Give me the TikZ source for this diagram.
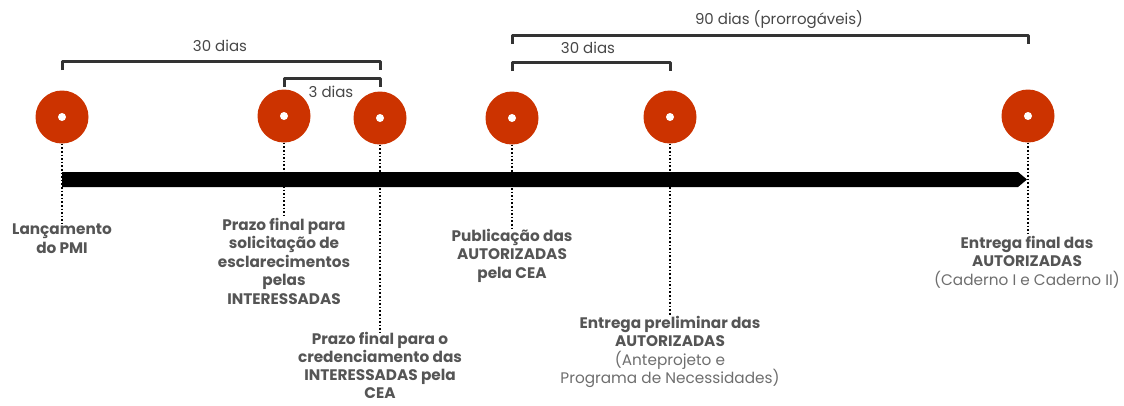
\documentclass[tikz,border=0pt]{standalone}
\usepackage{fontspec}
\setmainfont{Poppins}
\definecolor{dot}{HTML}{CC3300}
\definecolor{lbl}{HTML}{555555}
\definecolor{brk}{HTML}{333333}
\tikzset{
  x=1pt,y=-1pt,
  milestone/.style={circle,fill=dot,minimum size=53pt,inner sep=0pt,
    path picture={\fill[white] (path picture bounding box.center) circle (4pt);}},
  evlabel/.style={align=center,text=lbl,font=\fontsize{15.3}{18.5}\selectfont\bfseries,inner sep=0pt,anchor=north},
  guide/.style={dotted,line width=1.6pt,black},
  bracket/.style={line width=3pt,brk,line cap=butt,line join=round},
  brlabel/.style={text=brk!90,font=\fontsize{15}{18}\selectfont,inner sep=0pt}
}
\newcommand{\lt}[1]{{\mdseries\color{lbl!85}#1}}
\begin{document}
\begin{tikzpicture}
\useasboundingbox (0,0) rectangle (1124,405);
% milestones
\node[milestone] (c1) at (62,117) {};
\node[milestone] (c2) at (284,116) {};
\node[milestone] (c3) at (380,118) {};
\node[milestone] (c4) at (512,118) {};
\node[milestone] (c5) at (670,117) {};
\node[milestone] (c6) at (1028,116) {};
% timeline bar
\fill[black] (62,172) -- (1018,172) -- (1027,179.5) -- (1018,187) -- (62,187) -- cycle;
% labels
\node[evlabel] (l1) at (62,224) {Lançamento\\do PMI};
\node[evlabel] (l2) at (284,218) {Prazo final para\\solicitação de\\esclarecimentos\\pelas\\INTERESSADAS};
\node[evlabel,font=\fontsize{15.3}{18}\selectfont\bfseries] (l3) at (380,332) {Prazo final para o\\credenciamento das\\INTERESSADAS pela\\CEA};
\node[evlabel] (l4) at (512,229) {Publicação das\\AUTORIZADAS\\pela CEA};
\node[evlabel] (l5) at (670,316) {Entrega preliminar das\\AUTORIZADAS\\\lt{(Anteprojeto e}\\\lt{Programa de Necessidades)}};
\node[evlabel] (l6) at (1027,236) {Entrega final das\\AUTORIZADAS\\\lt{(Caderno I e Caderno II)}};
% guides
\draw[guide] (c1.south) -- (c1.south |- l1.north);
\draw[guide] (c2.south) -- (c2.south |- l2.north);
\draw[guide] (c3.south) -- (c3.south |- l3.north);
\draw[guide] (c4.south) -- (c4.south |- l4.north);
\draw[guide] (c5.south) -- (c5.south |- l5.north);
\draw[guide] (c6.south) -- (c6.south |- l6.north);
% brackets
\coordinate (b1a) at (62,70); \coordinate (b1b) at (380,70);
\draw[bracket] (b1a) -- ++(0,-9) -- ([yshift=9pt]b1b) -- (b1b);
\node[brlabel] (t1) at (220,46) {30 dias};
\coordinate (b2a) at (284,87); \coordinate (b2b) at (380,87);
\draw[bracket] (b2a) -- ++(0,-9) -- ([yshift=9pt]b2b) -- (b2b);
\node[brlabel] (t2) at (331,92) {3 dias};
\coordinate (b3a) at (512,44); \coordinate (b3b) at (1028,44);
\draw[bracket] (b3a) -- ++(0,-9) -- ([yshift=9pt]b3b) -- (b3b);
\node[brlabel] (t3) at (779,20) {90 dias (prorrogáveis)};
\coordinate (b4a) at (512,71); \coordinate (b4b) at (670,71);
\draw[bracket] (b4a) -- ++(0,-9) -- ([yshift=9pt]b4b) -- (b4b);
\node[brlabel] (t4) at (588,48) {30 dias};
\end{tikzpicture}
\end{document}
